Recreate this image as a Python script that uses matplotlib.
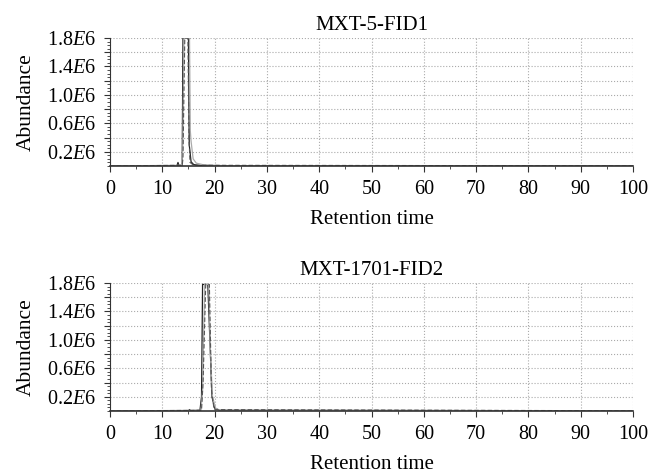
import matplotlib
matplotlib.use('Agg')
import matplotlib.pyplot as plt
from matplotlib.ticker import MultipleLocator

plt.rcParams['font.family'] = ['Liberation Serif', 'DejaVu Serif']
plt.rcParams['mathtext.fontset'] = 'custom'
plt.rcParams['mathtext.rm'] = 'Liberation Serif'
plt.rcParams['mathtext.it'] = 'Liberation Serif:italic'

# MXT-5-FID1 traces (retention time, abundance)
t1_a = [0, 10, 11, 12.8, 13.0, 13.2, 13.8, 13.95, 14.1, 15.0, 15.15, 15.5, 16, 17, 20, 100]
y1_a = [0, 0, 0.005e6, 0.005e6, 0.05e6, 0.005e6, 0.01e6, 1.8e6, 1.8e6, 1.8e6, 0.3e6, 0.06e6, 0.02e6, 0.01e6, 0.005e6, 0.003e6]
t1_b = [0, 13.7, 13.9, 14.15, 15.2, 15.35, 15.5, 15.9, 16.5, 18, 22, 100]
y1_b = [0, 0.01e6, 0.2e6, 1.8e6, 1.8e6, 0.5e6, 0.35e6, 0.1e6, 0.04e6, 0.015e6, 0.005e6, 0.003e6]
t1_c = [0, 13.8, 13.95, 14.3, 14.9, 15.1, 15.3, 16, 100]
y1_c = [0, 0.01e6, 0.1e6, 1.8e6, 1.8e6, 0.4e6, 0.05e6, 0.01e6, 0.003e6]

# MXT-1701-FID2 traces
t2_a = [0, 15, 15.2, 15.4, 17.2, 17.5, 17.7, 18.7, 19.1, 19.5, 20, 21, 100]
y2_a = [0, 0.005e6, 0.02e6, 0.005e6, 0.01e6, 0.2e6, 1.78e6, 1.78e6, 1.0e6, 0.2e6, 0.04e6, 0.01e6, 0.003e6]
t2_b = [0, 17.4, 17.7, 18.1, 18.9, 19.2, 19.6, 20.2, 21, 100]
y2_b = [0, 0.01e6, 0.3e6, 1.78e6, 1.78e6, 0.8e6, 0.2e6, 0.04e6, 0.01e6, 0.003e6]
t2_c = [0, 17.5, 17.8, 18.3, 19.0, 19.4, 19.9, 100]
y2_c = [0, 0.01e6, 0.4e6, 1.78e6, 1.78e6, 0.3e6, 0.02e6, 0.003e6]

titles = ['MXT-5-FID1', 'MXT-1701-FID2']
ygrid_vals = [0.2e6 * k for k in range(1, 10)]
ytick_labels = ['0.2$\\mathit{E}$6', '', '0.6$\\mathit{E}$6', '', '1.0$\\mathit{E}$6', '',
                '1.4$\\mathit{E}$6', '', '1.8$\\mathit{E}$6']

fig = plt.figure(figsize=(6.5, 4.74), dpi=100)
ax1 = fig.add_axes([110/650, 1 - 166/474, 523/650, 128/474])
ax2 = fig.add_axes([110/650, 1 - 411/474, 523/650, 128/474])

series = [
    [(t1_a, y1_a), (t1_b, y1_b), (t1_c, y1_c)],
    [(t2_a, y2_a), (t2_b, y2_b), (t2_c, y2_c)],
]
styles = [
    dict(color='#222222', lw=0.9, ls='-'),
    dict(color='#aaaaaa', lw=0.9, ls='-'),
    dict(color='#555555', lw=0.8, ls=(0, (4, 2))),
]

for ax, title, ser in zip([ax1, ax2], titles, series):
    for (t, y), st in zip(ser, styles):
        ax.plot(t, y, **st)
    ax.set_xlim(0, 100)
    ax.set_ylim(0, 1.8e6)
    ax.xaxis.set_major_locator(MultipleLocator(10))
    ax.xaxis.set_minor_locator(MultipleLocator(5))
    ax.set_yticks(ygrid_vals)
    ax.set_yticklabels(ytick_labels)
    ax.yaxis.set_minor_locator(MultipleLocator(0.05e6))
    ax.grid(True, which='major', ls=':', color='#aaaaaa', lw=0.8)
    for s in ['top', 'right']:
        ax.spines[s].set_visible(False)
    ax.spines['left'].set_color('#333333')
    ax.spines['bottom'].set_color('#333333')
    ax.spines['bottom'].set_linewidth(1.2)
    ax.tick_params(axis='both', which='major', labelsize=14.5, length=4, color='#333333')
    ax.tick_params(axis='both', which='minor', length=2, color='#333333')
    ax.tick_params(axis='x', pad=6)
    ax.tick_params(axis='y', pad=6)
    ax.set_title(title, fontsize=15, pad=6)
    ax.set_ylabel('Abundance', fontsize=15.5, labelpad=8)
    ax.set_xlabel('Retention time', fontsize=15, labelpad=8)

fig.savefig('out.png', dpi=100)
